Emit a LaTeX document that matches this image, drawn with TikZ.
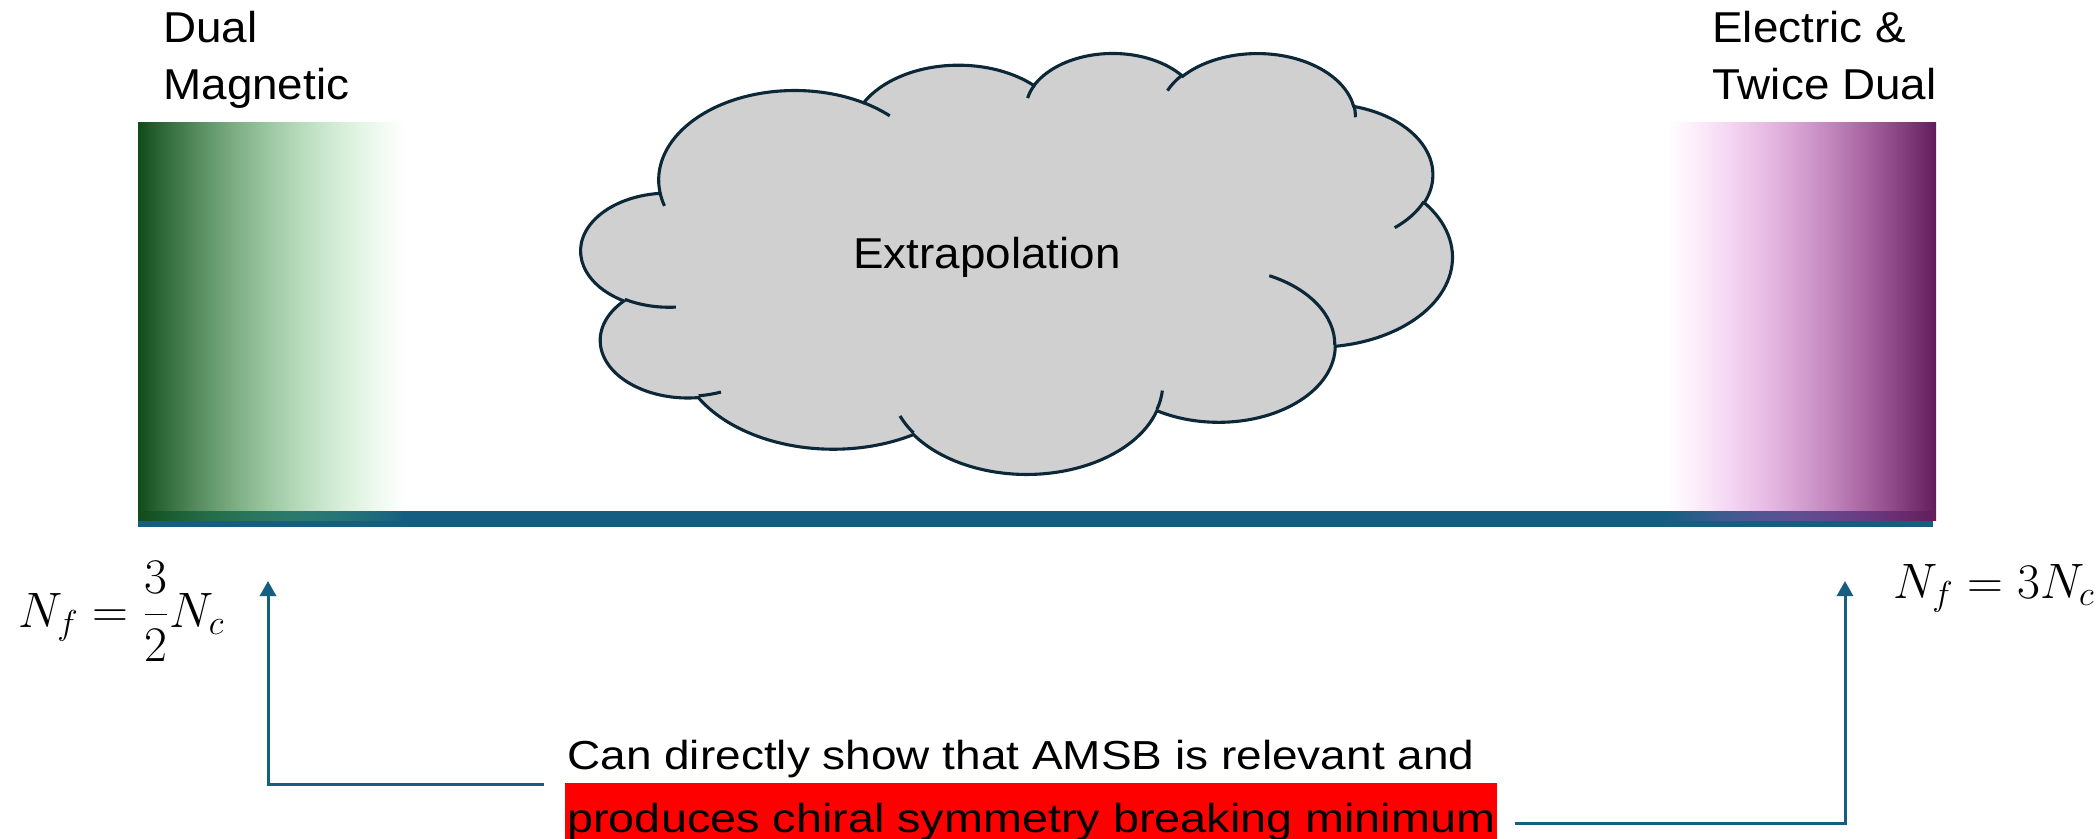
\documentclass[tikz,border=0pt]{standalone}
\usepackage{fontspec}
\usetikzlibrary{fadings,arrows.meta}
\newfontfamily\labfont[FakeStretch=1.06]{Liberation Sans}
\newfontfamily\notefontA[FakeStretch=1.135]{Liberation Sans}
\newfontfamily\notefontB[FakeStretch=1.155]{Liberation Sans}
\definecolor{barblue}{RGB}{22,94,128}
\definecolor{cloudfill}{RGB}{208,208,208}
\definecolor{cloudstroke}{RGB}{12,40,56}
\definecolor{gdark}{RGB}{17,75,28}
\definecolor{glight}{RGB}{110,220,120}
\definecolor{pdark}{RGB}{98,28,90}
\definecolor{plight}{RGB}{240,95,230}
\tikzfading[name=fadeoutright, left color=transparent!0, right color=transparent!100]
\tikzfading[name=fadeoutleft, left color=transparent!100, right color=transparent!0]
% OOXML arcTo: wR, hR, stAng, swAng (visual angles, y down)
\newcommand\ooarc[4]{arc[x radius=#1, y radius=#2, start angle={atan2(#1*sin(#3),#2*cos(#3))}, delta angle={mod(atan2(#1*sin(#3+#4),#2*cos(#3+#4))-atan2(#1*sin(#3),#2*cos(#3))+720,360)}]}
\begin{document}
\begin{tikzpicture}[x=0.5pt,y=-0.5pt,
  lab/.style={font=\labfont\fontsize{21.6}{28.5}\selectfont, anchor=base west, inner sep=0pt, align=left, text=black},
  mathlab/.style={font=\fontsize{23.4}{28}\selectfont, anchor=base west, inner sep=0pt},
  conn/.style={draw=barblue, line width=1.5pt, -{Triangle[width=8pt,length=7.5pt]}},
  cloudline/.style={draw=cloudstroke, line width=1.55pt},
]
\useasboundingbox (0,0) rectangle (2100,839);
\fill[white] (0,0) rectangle (2100,839);
% axis bar
\fill[barblue] (138,511) rectangle (1933,527);
% coloured end regions
\shade[left color=gdark, right color=glight, path fading=fadeoutright] (138,123) rectangle (405,521);
\shade[left color=plight, right color=pdark, path fading=fadeoutleft] (1668,123) rectangle (1936,521);
% top labels (anchor on the baseline of the last line)
\node[lab] (dm) at (163,100) {Dual\\Magnetic};
\node[lab] (et) at (1712,100) {Electric \&\\Twice Dual};
% cloud (Office preset geometry)
\begin{scope}[shift={(581.3,52.1)}, xscale=20.158, yscale=9.741]
\filldraw[fill=cloudfill, cloudline] (3.900,14.370)
  \ooarc{6.753}{9.190}{-190.48748}{123.78053}
  \ooarc{5.333}{7.267}{-144.10238}{89.94523}
  \ooarc{4.365}{5.945}{-145.80792}{99.72302}
  \ooarc{4.857}{6.595}{-130.98607}{117.24173}
  \ooarc{5.333}{7.273}{-78.70888}{109.02692}
  \ooarc{6.775}{9.220}{-46.26725}{130.26900}
  \ooarc{5.785}{7.867}{0.62502}{114.03333}
  \ooarc{6.752}{9.215}{22.45160}{115.17255}
  \ooarc{7.720}{10.543}{66.24263}{75.71102}
  \ooarc{4.360}{5.918}{-274.94208}{146.73557}
  \ooarc{4.345}{5.945}{-246.82850}{152.53027}
  -- cycle;
\draw[cloudline] (4.693,26.177) \ooarc{4.345}{5.945}{86.74200}{26.42950};
\draw[cloudline] (6.928,34.899) \ooarc{4.360}{5.918}{73.61047}{11.44747};
\draw[cloudline] (16.478,39.090) \ooarc{6.752}{9.215}{137.62415}{14.08110};
\draw[cloudline] (28.827,34.751) \ooarc{6.752}{9.215}{6.45327}{15.99835};
\draw[cloudline] (34.129,22.954) \ooarc{5.785}{7.867}{-70.29235}{70.91737};
\draw[cloudline] (41.798,15.354) \ooarc{5.333}{7.273}{30.31803}{27.75150};
\draw[cloudline] (38.324,5.426) \ooarc{4.857}{6.595}{-13.74433}{14.85890};
\draw[cloudline] (29.078,3.952) \ooarc{4.857}{6.595}{-149.18145}{18.19537};
\draw[cloudline] (22.141,4.720) \ooarc{4.365}{5.945}{-163.49427}{17.68635};
\draw[cloudline] (14.000,5.192) \ooarc{6.753}{9.190}{-66.70695}{12.31935};
\draw[cloudline] (4.127,15.789) \ooarc{6.753}{9.190}{157.65435}{11.85817};
\end{scope}
\node[font=\labfont\fontsize{21.6}{28.5}\selectfont, anchor=base west, inner sep=0pt] (ext) at (853,269) {Extrapolation};
% N_f labels
\node[mathlab] (nfl) at (18,627) {$N_f=\displaystyle\frac{3}{2}N_c$};
\node[mathlab] (nfr) at (1893,598) {$N_f=3N_c$};
% bottom note
\node[font=\notefontA\fontsize{20.25}{31.5}\selectfont, anchor=base west, inner sep=0pt] (l1) at (567,769) {Can directly show that AMSB is relevant and};
\node[font=\notefontB\fontsize{20.25}{31.5}\selectfont, anchor=base west, fill=red, inner xsep=1pt, inner ysep=0pt, text height=24.5pt, text depth=5pt] (l2) at (565,832) {produces chiral symmetry breaking minimum};
% connectors
\coordinate (srcL) at (544,784);
\coordinate (tipL) at (268,581);
\coordinate (srcR) at (1515,823);
\coordinate (tipR) at (1845,581);
\draw[conn] (srcL) -| (tipL);
\draw[conn] (srcR) -| (tipR);
\end{tikzpicture}
\end{document}
